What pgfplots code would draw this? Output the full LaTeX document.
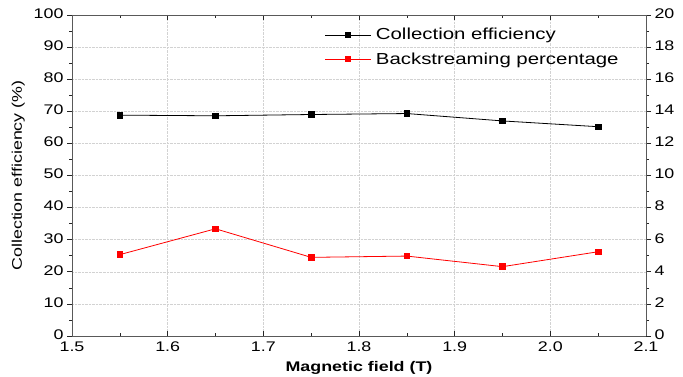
\documentclass[border=0pt]{standalone}
\usepackage{fontspec}
\setmainfont[FakeStretch=1.28]{Liberation Sans}
\usepackage{pgfplots}
\pgfplotsset{compat=1.18}
\begin{document}
\begin{tikzpicture}
\path[use as bounding box] (-72bp,-41bp) rectangle (611bp,336bp);
\pgfplotsset{every axis/.append style={
  scale only axis, width=574bp, height=321bp, at={(0,0)}, anchor=south west,
  xmin=1.5, xmax=2.1,
  /pgf/number format/assume math mode=true,
  tick label style={font=\fontsize{14}{16}\selectfont},
  label style={font=\fontsize{14}{16}\selectfont},
  major tick length=5bp, minor tick length=3bp,
}}
\begin{axis}[
  ymin=0, ymax=100, ytick={0,10,20,30,40,50,60,70,80,90,100}, minor y tick num=1,
  xtick={1.5,1.6,1.7,1.8,1.9,2.0,2.1}, minor x tick num=1,
  xticklabel style={yshift=-2.5bp, /pgf/number format/.cd, fixed, fixed zerofill, precision=1},
  yticklabel style={yshift=1.5bp},
  xtick pos=both, ytick pos=left,
  xtick align=inside, ytick align=outside,
  grid=major, grid style={densely dotted, gray!35, line width=0.5bp},
  axis line style={gray!70!black, line width=0.8bp},
  tick style={gray!30!black, line width=0.6bp},
  xlabel={\bfseries Magnetic field (T)},
  xlabel style={yshift=-3bp},
  ylabel={Collection efficiency (\%)},
  ylabel style={yshift=2bp},
  legend style={draw=none, fill=none, at={(axis description cs:0.44,0.965)}, anchor=north west,
    font=\fontsize{16}{19}\selectfont, row sep=7bp, inner sep=0pt, nodes={inner xsep=5bp}},
  legend cell align=left,
  legend image code/.code={\draw[mark repeat=2,mark phase=2,#1] plot coordinates {(0cm,0cm) (0.8cm,0cm) (1.6cm,0cm)};},
]
\addplot[black, line width=0.8bp, mark=square*, mark size=2.8bp, mark options={solid}] coordinates {
(1.55,68.8) (1.65,68.6) (1.75,69.0) (1.85,69.3) (1.95,67.0) (2.05,65.2)};
\addlegendentry{Collection efficiency}
\addlegendimage{red, line width=0.8bp, mark=square*, mark size=2.8bp}
\addlegendentry{Backstreaming percentage}
\end{axis}
\begin{axis}[
  ymin=0, ymax=20, ytick={0,2,4,6,8,10,12,14,16,18,20}, minor y tick num=1,
  axis y line*=right, axis x line=none,
  ytick align=outside,
  yticklabel style={yshift=1.5bp},
  axis line style={gray!70!black, line width=0.8bp},
  tick style={gray!30!black, line width=0.6bp},
]
\addplot[red, line width=0.8bp, mark=square*, mark size=2.8bp] coordinates {
(1.55,5.07) (1.65,6.68) (1.75,4.90) (1.85,4.98) (1.95,4.32) (2.05,5.25)};
\end{axis}
\end{tikzpicture}
\end{document}
